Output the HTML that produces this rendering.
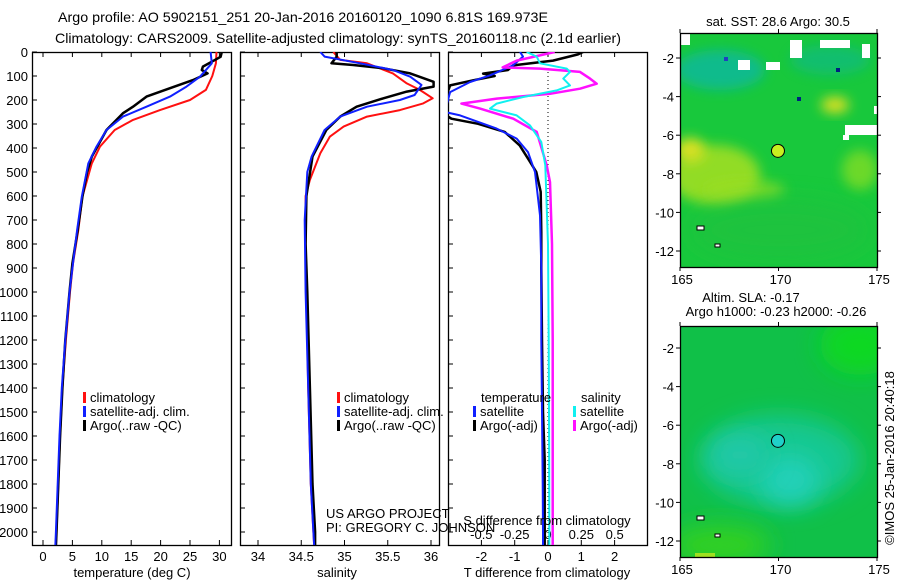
<!DOCTYPE html>
<html><head><meta charset="utf-8">
<style>
html,body{margin:0;padding:0;background:#fff;}
svg{display:block;font-family:"Liberation Sans",Arial,sans-serif;}
text{fill:#000;}
</style></head>
<body>
<svg id="chart" width="900" height="580" viewBox="0 0 900 580" xmlns="http://www.w3.org/2000/svg">
<defs>
<clipPath id="c1"><rect x="32" y="52" width="199" height="493"/></clipPath>
<clipPath id="c2"><rect x="240" y="52" width="199" height="493"/></clipPath>
<clipPath id="c3"><rect x="448" y="52" width="199" height="493"/></clipPath>
<clipPath id="cm1"><rect x="680" y="33" width="197" height="234"/></clipPath>
<clipPath id="cm2"><rect x="680" y="326" width="197" height="231"/></clipPath>
<filter id="blur" x="-50%" y="-50%" width="200%" height="200%"><feGaussianBlur stdDeviation="6"/></filter>
<filter id="blur2" x="-50%" y="-50%" width="200%" height="200%"><feGaussianBlur stdDeviation="12"/></filter>
</defs>
<text x="58" y="22" font-size="14" textLength="490" lengthAdjust="spacingAndGlyphs">Argo profile: AO 5902151_251 20-Jan-2016 20160120_1090 6.81S 169.973E</text>
<text x="55" y="43" font-size="14" textLength="566" lengthAdjust="spacingAndGlyphs">Climatology: CARS2009. Satellite-adjusted climatology: synTS_20160118.nc (2.1d earlier)</text>
<g id="layer"></g>
</svg>
<script>
// ---------- data ----------
const depthTicks = [0,100,200,300,400,500,600,700,800,900,1000,1100,1200,1300,1400,1500,1600,1700,1800,1900,2000];
const tempTicks = [0,5,10,15,20,25,30];
const salTicks = [34,34.5,35,35.5,36];
const salTickLabels = ["34","34.5","35","35.5","36"];
const tdiffTicks = [-2,-1,0,1,2];
const sdiffTicks = [-0.5,-0.25,0,0.25,0.5];
const sdiffTickLabels = ["-0.5","-0.25","0","0.25","0.5"];

const climTDepth = [0,47,100,158,200,242,283,325,394,464,603,742,881,1000,1200,1400,1600,1800,2000,2060];
const climT = [29.5,29.4,28.8,27.7,25,19.9,15.3,12.2,9.7,8.3,6.7,6.0,5.1,4.6,3.9,3.3,2.9,2.6,2.3,2.2];
const satTDepth = [0,47,103,144,186,228,269,325,394,464,603,742,881,1000,1200,1400,1600,1800,2000,2060];
const satT = [28.5,28.7,26.7,24.4,21.6,17.6,13.6,10.8,9.1,7.7,6.6,5.8,5.1,4.5,3.8,3.2,2.8,2.5,2.2,2.1];
const argoTDepth = [0,20,61,75,89,117,151,186,228,255,325,436,500,603,742,881,1000,1200,1400,1600,1800,2000,2060];
const argoT = [30.4,30.2,27.2,27.0,28.0,25.5,21.6,17.6,15.3,13.6,10.8,8.3,7.5,6.7,5.9,5.0,4.5,3.8,3.3,2.9,2.6,2.3,2.2];

const climSDepth = [0,33,47,89,131,158,193,214,242,269,311,353,422,533,600,800,1000,1400,1800,2000,2060];
const climS = [34.87,34.95,35.26,35.56,35.72,35.87,36.02,35.91,35.64,35.26,34.99,34.83,34.72,34.60,34.55,34.55,34.56,34.58,34.61,34.64,34.65];
const satSDepth = [0,19,47,75,103,137,179,200,228,269,325,436,500,700,1000,1400,1800,2000,2060];
const satS = [34.72,34.77,35.18,35.56,35.76,35.89,35.81,35.64,35.26,34.95,34.77,34.62,34.57,34.54,34.55,34.58,34.61,34.64,34.65];
const argoSDepth = [0,19,47,54,68,89,124,144,165,193,228,269,325,436,600,800,1000,1400,1800,2000,2060];
const argoS = [34.91,34.91,34.85,35.10,35.45,35.76,36.03,36.03,35.72,35.45,35.14,34.95,34.79,34.63,34.56,34.55,34.57,34.60,34.63,34.66,34.66];

const argoTdDepth = [0,10,36,56,75,90,100,118,139,200,260,278,299,333,389,444,500,583,750,900,1200,1500,1700,2000,2060];
const argoTd = [1.05,0.9,0.15,-1.05,-1.2,-1.95,-1.6,-2.25,-2.94,-3.1,-3.1,-2.9,-2.1,-1.3,-0.85,-0.6,-0.35,-0.22,-0.2,-0.2,-0.18,-0.15,-0.1,-0.1,-0.1];
const satTdDepth = [0,19,56,97,125,167,250,264,319,361,417,500,681,900,1200,1500,1800,2000,2060];
const satTd = [-0.84,-0.75,-1.05,-1.74,-2.34,-2.94,-3.1,-2.64,-1.54,-0.94,-0.6,-0.39,-0.24,-0.2,-0.2,-0.18,-0.16,-0.15,-0.15];
const argoSdDepth = [0,36,64,69,83,111,132,153,174,194,215,236,278,333,472,542,800,1200,1600,2000,2060];
const argoSd = [0.05,-0.235,-0.34,-0.06,0.24,0.315,0.365,0.24,0.015,-0.385,-0.65,-0.51,-0.26,-0.085,-0.01,0.015,0.03,0.035,0.035,0.035,0.035];
const satSdDepth = [0,19,47,69,83,111,139,160,188,215,236,264,306,375,472,800,1200,1600,2000,2060];
const satSd = [-0.16,-0.085,-0.06,0.14,0.165,0.115,0.165,0.065,-0.19,-0.385,-0.435,-0.235,-0.135,-0.05,-0.02,0.0,0.005,0.008,0.01,0.01];

const lonTicks = [165,170,175];
const latTicks = [-2,-4,-6,-8,-10,-12];
const argoLon = [169.973];
const argoLat = [-6.81];

// ---------- helpers ----------
const NS = "http://www.w3.org/2000/svg";
const layer = document.getElementById('layer');
function el(tag, attrs, parent){
  const e = document.createElementNS(NS, tag);
  for (const k in attrs) e.setAttribute(k, attrs[k]);
  (parent||layer).appendChild(e);
  return e;
}
function txt(x,y,s,size,anchor,parent){
  const t = el('text',{x:x,y:y,'font-size':size||13,'text-anchor':anchor||'start'},parent);
  t.textContent = s;
  return t;
}
const yD = d => 52 + d*0.24;
const xT = v => 43 + v*5.88;
const xS = v => 258 + (v-34)*86.5;
const xTd = v => 548 + v*33.3;
const xSd = v => 548 + v*133.3;

function frame(x,y,w,h,name){
  const r = el('rect',{x:x+0.5,y:y+0.5,width:w,height:h,fill:'none',stroke:'#000','stroke-width':1.3});
  
  
}
function series(xs, ds, xf, color, width, clip, name){
  const pts = xs.map((v,i)=> xf(v).toFixed(1)+','+yD(ds[i]).toFixed(1)).join(' ');
  const p = el('polyline',{points:pts,fill:'none',stroke:color,'stroke-width':width,'stroke-linejoin':'round','clip-path':'url(#'+clip+')'});
  
  
}
function legendEntry(x,y,color,label,name){
  const g = el('g',{});
  
  
  el('rect',{x:x,y:y-10,width:3,height:11,fill:color},g);
  txt(x+7,y,label,13,'start',g);
}

// ---------- panel frames & axes ----------
const panels = [[32,'temperature-panel'],[240,'salinity-panel'],[448,'difference-panel']];
panels.forEach(([px,name])=>{
  frame(px,52,199,493,name+'-frame');
  depthTicks.forEach(d=>{
    el('line',{x1:px,x2:px+5,y1:yD(d),y2:yD(d),stroke:'#000'});
  });
});
// depth labels
depthTicks.forEach(d=>{
  const t = txt(28,yD(d)+5,String(d),13,'end');
  
  
});
// temperature x axis
tempTicks.forEach(v=>{
  el('line',{x1:xT(v),x2:xT(v),y1:52,y2:57,stroke:'#000'});
  el('line',{x1:xT(v),x2:xT(v),y1:545,y2:540,stroke:'#000'});
  const t = txt(xT(v),561,String(v),13,'middle');
  
  
});
let at = txt(132,577,'temperature (deg C)',13,'middle');


// salinity x axis
salTicks.forEach((v,i)=>{
  el('line',{x1:xS(v),x2:xS(v),y1:52,y2:57,stroke:'#000'});
  el('line',{x1:xS(v),x2:xS(v),y1:545,y2:540,stroke:'#000'});
  const t = txt(xS(v),561,salTickLabels[i],13,'middle');
  
  
});
at = txt(337,577,'salinity',13,'middle');


// difference axes
tdiffTicks.forEach(v=>{
  el('line',{x1:xTd(v),x2:xTd(v),y1:52,y2:57,stroke:'#000'});
  el('line',{x1:xTd(v),x2:xTd(v),y1:545,y2:540,stroke:'#000'});
  const t = txt(xTd(v),561,String(v),13,'middle');
  
  
});
sdiffTicks.forEach((v,i)=>{
  const t = txt(xSd(v),539,sdiffTickLabels[i],13,'middle');
  
  
});
// zero dotted line
const zl = el('line',{x1:xTd(0),x2:xTd(0),y1:52,y2:545,stroke:'#000','stroke-dasharray':'1,3'});


at = txt(547,577,'T difference from climatology',13,'middle');



// ---------- series ----------
series(climT, climTDepth, xT, '#ff1010', 2, 'c1', 'temperature-climatology-line');
series(argoT, argoTDepth, xT, '#000', 2.5, 'c1', 'temperature-argo-line');
series(satT, satTDepth, xT, '#1020ff', 2, 'c1', 'temperature-satellite-line');

series(climS, climSDepth, xS, '#ff1010', 2, 'c2', 'salinity-climatology-line');
series(argoS, argoSDepth, xS, '#000', 2.5, 'c2', 'salinity-argo-line');
series(satS, satSDepth, xS, '#1020ff', 2, 'c2', 'salinity-satellite-line');

series(argoTd, argoTdDepth, xTd, '#000', 2.5, 'c3', 't-difference-argo-line');
series(satTd, satTdDepth, xTd, '#1020ff', 2, 'c3', 't-difference-satellite-line');
series(argoSd, argoSdDepth, xSd, '#ff10ff', 2.5, 'c3', 's-difference-argo-line');
series(satSd, satSdDepth, xSd, '#10f0f0', 2, 'c3', 's-difference-satellite-line');

// ---------- legends ----------
legendEntry(83,402,'#ff1010','climatology','legend-entry-climatology');
legendEntry(83,416,'#1020ff','satellite-adj. clim.','legend-entry-satellite-adj');
legendEntry(83,430,'#000','Argo(..raw -QC)','legend-entry-argo');
legendEntry(337,402,'#ff1010','climatology','legend-entry-climatology-2');
legendEntry(337,416,'#1020ff','satellite-adj. clim.','legend-entry-satellite-adj-2');
legendEntry(337,430,'#000','Argo(..raw -QC)','legend-entry-argo-2');
let lh = txt(481,402,'temperature',13,'start');


lh = txt(581,402,'salinity',13,'start');


legendEntry(473,416,'#1020ff','satellite','legend-entry-t-satellite');
legendEntry(473,430,'#000','Argo(-adj)','legend-entry-t-argo');
legendEntry(573,416,'#10f0f0','satellite','legend-entry-s-satellite');
legendEntry(573,430,'#ff10ff','Argo(-adj)','legend-entry-s-argo');

let cr = txt(326,518,'US ARGO PROJECT',13,'start');


cr = txt(326,532,'PI: GREGORY C. JOHNSON',13,'start');


cr = txt(547,525,'S difference from climatology',13,'middle');



// ---------- maps ----------
function mapAxes(top, bottom, yLat, name){
  const xL = v => 680 + (v-165)*19.7;
  frame(680, top, 197, bottom-top, name+'-frame');
  lonTicks.forEach(v=>{
    el('line',{x1:xL(v),x2:xL(v),y1:top,y2:top-4,stroke:'#000'});
    el('line',{x1:xL(v),x2:xL(v),y1:bottom,y2:bottom+4,stroke:'#000'});
    const t = txt(xL(v)+2,bottom+17,String(v),13,'middle');
    
    
  });
  latTicks.forEach(v=>{
    el('line',{x1:680,x2:676,y1:yLat(v),y2:yLat(v),stroke:'#000'});
    el('line',{x1:877,x2:881,y1:yLat(v),y2:yLat(v),stroke:'#000'});
    const t = txt(674,yLat(v)+5,String(v),13,'end');
    
    
  });
  return xL;
}
// top SST map
const yL1 = v => 58 + (-2 - v)*19.3;
const m1 = el('g',{'clip-path':'url(#cm1)'});


el('rect',{x:680,y:33,width:197,height:234,fill:'#18c83c'},m1);
el('ellipse',{cx:715,cy:175,rx:45,ry:30,fill:'#a8e020',filter:'url(#blur)',opacity:0.85},m1);
el('ellipse',{cx:690,cy:150,rx:15,ry:12,fill:'#d8e020',filter:'url(#blur)'},m1);
el('ellipse',{cx:745,cy:190,rx:40,ry:10,fill:'#a0e020',filter:'url(#blur)',opacity:0.7},m1);
el('ellipse',{cx:835,cy:105,rx:14,ry:8,fill:'#e0e020',filter:'url(#blur)'},m1);
el('ellipse',{cx:860,cy:170,rx:18,ry:20,fill:'#90e020',filter:'url(#blur)',opacity:0.7},m1);
el('ellipse',{cx:720,cy:70,rx:45,ry:20,fill:'#10b8a0',filter:'url(#blur)',opacity:0.8},m1);
el('ellipse',{cx:830,cy:60,rx:40,ry:15,fill:'#10b890',filter:'url(#blur)',opacity:0.6},m1);
el('ellipse',{cx:780,cy:230,rx:90,ry:30,fill:'#20c040',filter:'url(#blur2)',opacity:0.6},m1);
el('rect',{x:680,y:33,width:10,height:12,fill:'#fff'},m1);
el('rect',{x:738,y:60,width:12,height:10,fill:'#fff'},m1);
el('rect',{x:766,y:62,width:14,height:8,fill:'#fff'},m1);
el('rect',{x:790,y:40,width:12,height:18,fill:'#fff'},m1);
el('rect',{x:820,y:40,width:30,height:8,fill:'#fff'},m1);
el('rect',{x:862,y:44,width:8,height:14,fill:'#fff'},m1);
el('rect',{x:845,y:125,width:32,height:10,fill:'#fff'},m1);
el('rect',{x:843,y:135,width:6,height:5,fill:'#fff'},m1);
el('rect',{x:874,y:106,width:3,height:8,fill:'#fff'},m1);
el('rect',{x:797,y:97,width:4,height:4,fill:'#002080'},m1);
el('rect',{x:836,y:68,width:4,height:4,fill:'#002080'},m1);
el('rect',{x:724,y:57,width:4,height:4,fill:'#2040c0'},m1);
const xL1 = mapAxes(33, 267, yL1, 'sst-map');
const mk1 = el('circle',{cx:xL1(argoLon[0]),cy:yL1(argoLat[0]),r:6.5,fill:'#c8f020',stroke:'#000','stroke-width':1});


let mt = txt(778,26,'sat. SST: 28.6 Argo: 30.5',13,'middle');



// bottom SLA map
const yL2 = v => 348 + (-2 - v)*19.3;
const m2 = el('g',{'clip-path':'url(#cm2)'});


el('rect',{x:680,y:326,width:197,height:231,fill:'#10c048'},m2);
el('ellipse',{cx:860,cy:345,rx:40,ry:30,fill:'#10d820',filter:'url(#blur2)'},m2);
el('ellipse',{cx:780,cy:460,rx:80,ry:45,fill:'#18c890',filter:'url(#blur2)'},m2);
el('ellipse',{cx:790,cy:480,rx:30,ry:25,fill:'#20d0b8',filter:'url(#blur2)'},m2);
el('ellipse',{cx:740,cy:455,rx:30,ry:20,fill:'#20c8a8',filter:'url(#blur2)'},m2);
el('ellipse',{cx:720,cy:545,rx:50,ry:20,fill:'#30d020',filter:'url(#blur2)'},m2);
el('rect',{x:695,y:553,width:20,height:5,fill:'#a0e020'},m2);
const xL2 = mapAxes(326, 557, yL2, 'sla-map');
const mk2 = el('circle',{cx:xL2(argoLon[0]),cy:yL2(argoLat[0]),r:6.5,fill:'#20d0c8',stroke:'#000','stroke-width':1});


mt = txt(751,302,'Altim. SLA: -0.17',13,'middle');


mt = txt(776,316,'Argo h1000: -0.23 h2000: -0.26',13,'middle');


// island outlines
[[1,1],[2,2]].forEach(()=>{});
[[697,226],[697,516]].forEach(([x,y])=>{
  el('rect',{x:x,y:y,width:7,height:4,fill:'#fff',stroke:'#000','stroke-width':1});
  el('rect',{x:x+18,y:y+18,width:5,height:3,fill:'#fff',stroke:'#000','stroke-width':1});
});
const stamp = el('text',{x:0,y:0,'font-size':13,'text-anchor':'middle',transform:'translate(894,458) rotate(-90)'});
stamp.textContent = '©IMOS 25-Jan-2016 20:40:18';


</script>
</body></html>
